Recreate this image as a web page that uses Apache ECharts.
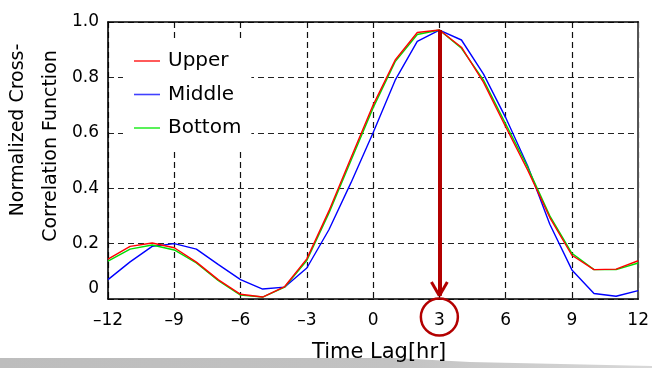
<!DOCTYPE html>
<html>
<head>
<meta charset="utf-8">
<script src="https://cdn.jsdelivr.net/npm/echarts@6/dist/echarts.min.js"></script>
<style>
  html, body { margin: 0; padding: 0; background: #fff; }
  #chart { width: 652px; height: 368px; }
</style>
</head>
<body>
<div id="chart"></div>
<script>
// Time lag in hours
const hours = [-12, -11, -10, -9, -8, -7, -6, -5, -4, -3, -2, -1, 0, 1, 2, 3, 4, 5, 6, 7, 8, 9, 10, 11, 12];

// Normalized cross-correlation for each layer
const upper = [0.144, 0.190, 0.202, 0.185, 0.133, 0.069, 0.017, 0.007, 0.045, 0.145, 0.318, 0.510, 0.700,
               0.863, 0.962, 0.971, 0.909, 0.782, 0.622, 0.465, 0.294, 0.158, 0.106, 0.108, 0.138];
const middle = [0.070, 0.134, 0.190, 0.200, 0.180, 0.124, 0.070, 0.036, 0.043, 0.112, 0.250, 0.420, 0.600,
                0.790, 0.930, 0.971, 0.935, 0.812, 0.655, 0.480, 0.270, 0.105, 0.020, 0.010, 0.030];
const bottom = [0.137, 0.180, 0.195, 0.177, 0.130, 0.066, 0.014, 0.007, 0.043, 0.139, 0.310, 0.500, 0.690,
                0.857, 0.955, 0.971, 0.905, 0.790, 0.632, 0.475, 0.300, 0.165, 0.106, 0.106, 0.130];

const seriesNames = ['Upper', 'Middle', 'Bottom'];
const seriesColors = { Upper: '#ff0000', Middle: '#0000ff', Bottom: '#00dd00' };
const legendColors = { Upper: '#ff3030', Middle: '#4040ff', Bottom: '#30ee30' };
const xTickStep = 3;
const yTickStep = 0.2;

const FONT = 'DejaVu Sans';
const pairs = arr => hours.map((h, i) => [h, arr[i]]);

// Lag at which the upper layer peaks
let peakIdx = 0;
upper.forEach((v, i) => { if (v > upper[peakIdx]) peakIdx = i; });
const peakLag = hours[peakIdx];
const peakVal = upper[peakIdx];
const arrowTip = 0.012;
const arrowArmDx = 0.36;
const arrowArmY = 0.061;

const chart = echarts.init(document.getElementById('chart'), null, { renderer: 'canvas' });

const lineSeries = (name, data, z) => ({
  name, type: 'line', data: pairs(data), symbol: 'none', z,
  lineStyle: { color: seriesColors[name], width: 1.4 },
  itemStyle: { color: seriesColors[name] }
});

const arrowColor = '#b30000';

chart.setOption({
  animation: false,
  backgroundColor: '#ffffff',
  grid: { left: 108, right: 13, top: 22, bottom: 68, containLabel: false },
  legend: {
    data: seriesNames.map(n => ({ name: n, icon: 'rect', itemStyle: { color: legendColors[n] } })),
    left: 123, top: 40, orient: 'vertical',
    backgroundColor: '#ffffff',
    padding: [10, 10, 11, 11],
    itemWidth: 26, itemHeight: 1.6, itemGap: 11.5,
    textStyle: { fontFamily: FONT, fontSize: 20, color: '#000', lineHeight: 22, padding: [0, 0, 0, 3] }
  },
  xAxis: [{
    type: 'value', min: -12, max: 12, interval: xTickStep,
    name: 'Time Lag[hr]', nameLocation: 'middle', nameGap: 43,
    nameTextStyle: { fontFamily: FONT, fontSize: 21, color: '#000', padding: [0, 0, 0, 12] },
    axisLine: { show: true, onZero: false, lineStyle: { color: '#000', width: 1.6 } },
    axisTick: { show: false },
    axisLabel: {
      fontFamily: FONT, fontSize: 17, color: '#000', margin: 13,
      formatter: v => (v < 0 ? '\u2013' + Math.abs(v) : String(v))
    },
    splitLine: { show: true, lineStyle: { color: '#111', width: 1.2, type: [6, 4] } }
  }, {
    type: 'value', position: 'top', min: -12, max: 12, interval: xTickStep,
    axisLine: { show: true, onZero: false, lineStyle: { color: '#000', width: 1.6 } },
    axisTick: { show: false }, axisLabel: { show: false }, splitLine: { show: false }
  }],
  yAxis: [{
    type: 'value', min: 0, max: 1, interval: yTickStep,
    axisLine: { show: true, onZero: false, lineStyle: { color: '#000', width: 1.6 } },
    axisTick: { show: false },
    axisLabel: {
      fontFamily: FONT, fontSize: 17, color: '#000', margin: 9,
      formatter: v => (v === 0 ? '{z|0}' : v.toFixed(1)),
      rich: { z: { fontFamily: FONT, fontSize: 17, color: '#000', padding: [0, 0, 20, 0] } }
    },
    splitLine: { show: true, lineStyle: { color: '#222', width: 1.2, type: [6, 4] } }
  }, {
    type: 'value', position: 'right', min: 0, max: 1, interval: yTickStep,
    axisLine: { show: true, onZero: false, lineStyle: { color: '#555', width: 2 } },
    axisTick: { show: false }, axisLabel: { show: false }, splitLine: { show: false }
  }],
  series: [
    lineSeries('Middle', middle, 2),
    lineSeries('Bottom', bottom, 3),
    lineSeries('Upper', upper, 4),
    {
      // peak-lag arrow
      name: 'peak', type: 'line', data: [[peakLag, peakVal]], symbol: 'none', z: 5,
      lineStyle: { opacity: 0 }, silent: true,
      markLine: {
        silent: true, symbol: 'none', animation: false,
        label: { show: false },
        lineStyle: { color: arrowColor, type: 'solid', width: 4 },
        data: [
          [{ coord: [peakLag, peakVal] }, { coord: [peakLag, arrowTip] }],
          [{ coord: [peakLag - arrowArmDx, arrowArmY], lineStyle: { width: 3, color: arrowColor, type: 'solid' } },
           { coord: [peakLag, arrowTip] }],
          [{ coord: [peakLag + arrowArmDx, arrowArmY], lineStyle: { width: 3, color: arrowColor, type: 'solid' } },
           { coord: [peakLag, arrowTip] }]
        ]
      }
    }
  ]
});

// Circle around the peak-lag tick label, bottom shading band, y-axis title
const base = chart.convertToPixel({ gridIndex: 0 }, [peakLag, 0]);
chart.setOption({
  graphic: [
    {
      type: 'polygon', z: -10, silent: true,
      shape: { points: [[0, 358], [395, 358], [470, 362], [652, 366], [652, 368], [0, 368]] },
      style: {
        fill: new echarts.graphic.LinearGradient(0, 0, 1, 0, [
          { offset: 0, color: '#bdbdbd' }, { offset: 0.6, color: '#c2c2c2' }, { offset: 1, color: '#d8d8d8' }
        ])
      }
    },
    {
      type: 'circle', silent: true, z: 10,
      shape: { cx: base[0], cy: base[1] + 18, r: 18.5 },
      style: { fill: 'none', stroke: arrowColor, lineWidth: 2.5 }
    },
    {
      type: 'text', x: 18, y: 130, rotation: Math.PI / 2, silent: true,
      style: { text: 'Normalized Cross-', fontFamily: FONT, fontSize: 19, fill: '#000', align: 'center', verticalAlign: 'middle' }
    },
    {
      type: 'text', x: 51, y: 146, rotation: Math.PI / 2, silent: true,
      style: { text: 'Correlation Function', fontFamily: FONT, fontSize: 19, fill: '#000', align: 'center', verticalAlign: 'middle' }
    }
  ]
});
</script>
</body>
</html>
